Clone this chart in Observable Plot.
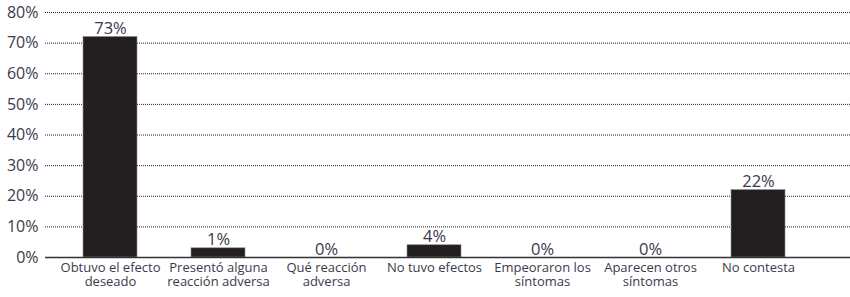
<!DOCTYPE html>
<html>
<head>
<meta charset="utf-8">
<script src="https://cdn.jsdelivr.net/npm/d3@7"></script>
<script src="https://cdn.jsdelivr.net/npm/@observablehq/plot@0.6"></script>
<style>
  html, body { margin: 0; padding: 0; background: #fff; }
  #chart svg { display: block; }
</style>
</head>
<body>
<div id="chart"></div>
<script>
const categories = [
  "Obtuvo el efecto\ndeseado",
  "Presentó alguna\nreacción adversa",
  "Qué reacción\nadversa",
  "No tuvo efectos",
  "Empeoraron los\nsíntomas",
  "Aparecen otros\nsíntomas",
  "No contesta"
];
const barValues = [72, 3, 0, 4, 0, 0, 22];
const valueLabels = ["73%", "1%", "0%", "4%", "0%", "0%", "22%"];
const yTicks = [0, 10, 20, 30, 40, 50, 60, 70, 80];

const data = categories.map((c, i) => ({cat: c, value: barValues[i], label: valueLabels[i]}));

const textColor = "#3a3a4c";
const font = "'Open Sans', 'Noto Sans', sans-serif";

const chart = Plot.plot({
  width: 850,
  height: 297,
  marginLeft: 45,
  marginRight: 0,
  marginTop: 12,
  marginBottom: 40,
  style: {fontFamily: font, background: "#fff", color: textColor},
  x: {domain: categories, range: [56, 812], paddingInner: 0.5, paddingOuter: 0.25, label: null},
  y: {domain: [0, 80], label: null},
  marks: [
    Plot.gridY(yTicks.filter(d => d > 0), {stroke: "#222", strokeOpacity: 1, strokeDasharray: "1,1", strokeWidth: 1}),
    Plot.barY(data, {x: "cat", y: "value", fill: "#231f20", stroke: "#8a8a8a", strokeWidth: 0.6}),
    Plot.ruleY([0], {stroke: "#333", strokeWidth: 1.6}),
    Plot.text(data, {x: "cat", y: "value", text: "label", dy: -3, lineAnchor: "bottom", fontSize: 16.5, fill: textColor}),
    Plot.axisY({ticks: yTicks, tickSize: 0, tickPadding: 7, tickFormat: d => d + "%", fontSize: 16, fill: textColor}),
    Plot.axisX({tickSize: 0, tickPadding: 4, fontSize: 13, lineHeight: 1.1, fill: textColor})
  ]
});
document.getElementById("chart").append(chart);
</script>
</body>
</html>
